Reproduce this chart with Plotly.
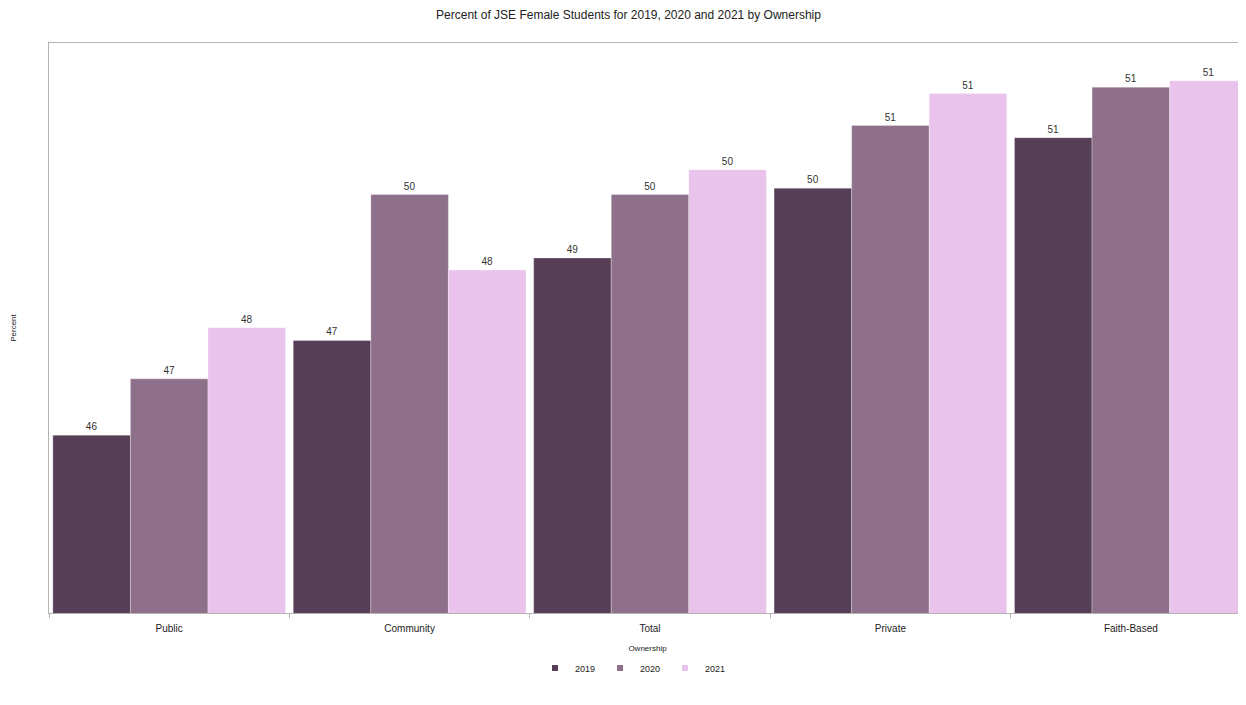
import plotly.graph_objects as go

categories = ["Public", "Community", "Total", "Private", "Faith-Based"]
years = ["2019", "2020", "2021"]
values_2019 = [45.89, 47.37, 48.66, 49.75, 50.54]
values_2020 = [46.77, 49.65, 49.65, 50.73, 51.33]
values_2021 = [47.57, 48.47, 50.04, 51.23, 51.43]
colors = ["#563e57", "#8e708b", "#e9c3eb"]

series = [values_2019, values_2020, values_2021]

fig = go.Figure()
for yr, vals, col in zip(years, series, colors):
    fig.add_trace(go.Bar(
        name=yr, x=categories, y=vals, showlegend=False, legendgroup=yr,
        marker=dict(color=col, line=dict(width=0.6, color="rgba(255,255,255,0.5)")),
        texttemplate="%{y:.0f}", textposition="outside",
        textfont=dict(size=10, color="#333333", family="Liberation Sans"),
        cliponaxis=False,
    ))
# legend entries with small square swatches
for yr, col in zip(years, colors):
    fig.add_trace(go.Scatter(
        name=yr, x=[None], y=[None], mode="markers", legendgroup=yr,
        marker=dict(symbol="square", size=6, color=col),
    ))

# The page body has an 8px margin, so the figure is sized/offset to compensate.
fig.update_layout(
    width=1246, height=689,
    barmode="group", bargap=0.032, bargroupgap=0,
    plot_bgcolor="white", paper_bgcolor="white",
    font=dict(family="Liberation Sans", color="#333333"),
    margin=dict(l=41, r=8, t=35, b=84, autoexpand=False),
    title=dict(text="Percent of JSE Female Students for 2019, 2020 and 2021 by Ownership",
               x=(628.5 - 8) / 1246, xref="container", xanchor="center", y=0.9898, yref="container",
               yanchor="middle", font=dict(size=12, color="#222222")),
    xaxis=dict(
        range=[-0.5, 4.479], showline=True, linecolor="#b3b3b3", linewidth=1,
        mirror=True, ticks="outside", tickson="boundaries", ticklen=4,
        tickcolor="#b3b3b3", tickfont=dict(size=10, color="#222222"),
        ticklabelstandoff=6, showgrid=False,
        title=dict(text="Ownership", font=dict(size=8, color="#222222"), standoff=22),
    ),
    yaxis=dict(
        range=[43.11, 52.02], showline=True, linecolor="#b3b3b3", linewidth=1,
        mirror=True, showticklabels=False, ticks="", showgrid=False, zeroline=False,
        title=dict(text="Percent", font=dict(size=8, color="#222222"), standoff=30),
    ),
    legend=dict(orientation="h", x=(633 - 8) / 1246, xref="container", xanchor="center",
                y=0.0421, yref="container", yanchor="middle",
                font=dict(size=9, color="#222222"), itemwidth=30,
                traceorder="normal"),
)

fig.write_html("out.html")
